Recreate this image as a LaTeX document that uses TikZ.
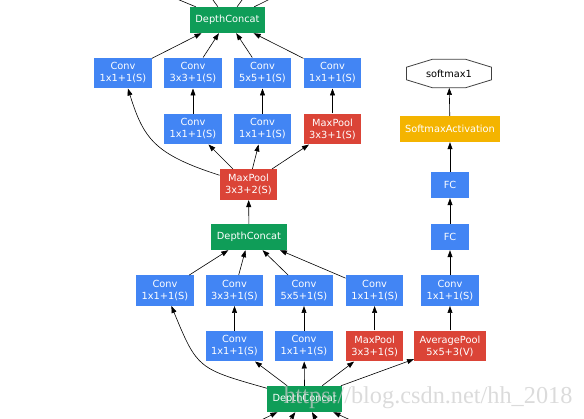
\documentclass[tikz,border=0pt]{standalone}
\usepackage{fontspec}
\setmainfont{DejaVu Sans}
\newfontfamily\wmfont{Liberation Serif}
\usepackage{tikz}
\usetikzlibrary{arrows.meta}
\definecolor{gblue}{HTML}{4285F4}
\definecolor{gred}{HTML}{DB4437}
\definecolor{ggreen}{HTML}{0F9D58}
\definecolor{gyellow}{HTML}{F4B400}
\tikzset{
    >={Triangle[length=7pt,width=5pt]},
    layer/.style={
        rectangle,
        text=white,
        inner xsep=5.5pt,
        inner ysep=5pt,
        minimum width=38pt,
        minimum height=26pt,
        align=center
    },
    conv/.style={layer, fill=gblue},
    pool/.style={layer, fill=gred},
    concat/.style={layer, fill=ggreen},
    act/.style={layer, fill=gyellow},
    octa/.style={draw=black!75, line width=0.8pt},
    link/.style={draw, ->, line width=0.6pt},
    wm/.style={inner sep=0pt, text=black!20, text opacity=0.7,
        font={\wmfont\fontsize{24.3pt}{26pt}\selectfont}},
    font={\fontsize{9.8pt}{12pt}\selectfont},
}

\begin{document}
\begin{tikzpicture}[x=1pt, y=-1pt]
\useasboundingbox (0,0) rectangle (584,418);
\clip (0,0) rectangle (584,418);
% upper inception block
\node(DCa) at (227.5,20)[concat]{DepthConcat};
\node(CVa1) at (123,73)[conv]{Conv\\1x1+1(S)};
\node(CVa2) at (193,73)[conv]{Conv\\3x3+1(S)};
\node(CVa3) at (262.5,73)[conv]{Conv\\5x5+1(S)};
\node(CVa4) at (332.5,73)[conv]{Conv\\1x1+1(S)};
\node(CVa5) at (193,129)[conv]{Conv\\1x1+1(S)};
\node(CVa6) at (262.5,129)[conv]{Conv\\1x1+1(S)};
\node(MPa) at (332.5,129)[pool]{MaxPool\\3x3+1(S)};
\node(MPb) at (248.5,184.5)[pool]{MaxPool\\3x3+2(S)};
% lower inception block
\node(DCb) at (249,237)[concat]{DepthConcat};
\node(CVb1) at (165,290.5)[conv]{Conv\\1x1+1(S)};
\node(CVb2) at (234.5,290.5)[conv]{Conv\\3x3+1(S)};
\node(CVb3) at (304,290.5)[conv]{Conv\\5x5+1(S)};
\node(CVb4) at (374.6,290.5)[conv]{Conv\\1x1+1(S)};
\node(CVb5) at (234.5,346)[conv]{Conv\\1x1+1(S)};
\node(CVb6) at (304,346)[conv]{Conv\\1x1+1(S)};
\node(MPc) at (374.6,346)[pool]{MaxPool\\3x3+1(S)};
\node(DCc) at (304.7,399)[concat]{DepthConcat};
% auxiliary classifier
\node(APa) at (450,346)[pool]{AveragePool\\5x5+3(V)};
\node(CVx) at (450,290.5)[conv]{Conv\\1x1+1(S)};
\node(FCb) at (450,237)[conv]{FC};
\node(FCa) at (450,185)[conv]{FC};
\node(SMA) at (450,129)[act]{SoftmaxActivation};
\node(SMX) at (449,73.5)[minimum width=85pt, minimum height=28.4pt, inner sep=0pt]{softmax1};
\draw[octa, shift={(SMX)}] (-16.7,-14.2) -- (16.7,-14.2) -- (42.5,-6.3) -- (42.5,6.3)
    -- (16.7,14.2) -- (-16.7,14.2) -- (-42.5,6.3) -- (-42.5,-6.3) -- cycle;
% ends outside the picture
\coordinate (o1) at (100,-33);
\coordinate (o2) at (189,-33);
\coordinate (o3) at (266,-33);
\coordinate (o4) at (335,-33);
\coordinate (i1) at (195,452);
\coordinate (i2) at (267,452);
\coordinate (i3) at (334,452);
\coordinate (i4) at (420,452);
\draw[link] (DCa) -- (o1);
\draw[link] (DCa) -- (o2);
\draw[link] (DCa) -- (o3);
\draw[link] (DCa) -- (o4);
\draw[link] (CVa1) -- (DCa);
\draw[link] (CVa2) -- (DCa);
\draw[link] (CVa3) -- (DCa);
\draw[link] (CVa4) -- (DCa);
\draw[link] (CVa5) -- (CVa2);
\draw[link] (CVa6) -- (CVa3);
\draw[link] (MPa) -- (CVa4);
\draw[link] (MPb) .. controls (153.8,154.2) and (143.6,138.2) .. (CVa1);
\draw[link] (MPb) -- (CVa5);
\draw[link] (MPb) -- (CVa6);
\draw[link] (MPb) -- (MPa);
\draw[link] (DCb) -- (MPb);
\draw[link] (CVb1) -- (DCb);
\draw[link] (CVb2) -- (DCb);
\draw[link] (CVb3) -- (DCb);
\draw[link] (CVb4) -- (DCb);
\draw[link] (CVb5) -- (CVb2);
\draw[link] (CVb6) -- (CVb3);
\draw[link] (MPc) -- (CVb4);
\draw[link] (DCc) .. controls (198,368.7) and (197.4,369) .. (CVb1);
\draw[link] (DCc) -- (CVb5);
\draw[link] (DCc) -- (CVb6);
\draw[link] (DCc) -- (MPc);
\draw[link] (DCc) -- (APa);
\draw[link] (APa) -- (CVx);
\draw[link] (CVx) -- (FCb);
\draw[link] (FCb) -- (FCa);
\draw[link] (FCa) -- (SMA);
\draw[link] (SMA) -- (SMX);
\draw[link] (i1) -- (DCc);
\draw[link] (i2) -- (DCc);
\draw[link] (i3) -- (DCc);
\draw[link] (i4) -- (DCc);
\node(WM) at (428,397.5)[wm]{https://blog.csdn.net/hh\_2018};
\end{tikzpicture}
\end{document}
